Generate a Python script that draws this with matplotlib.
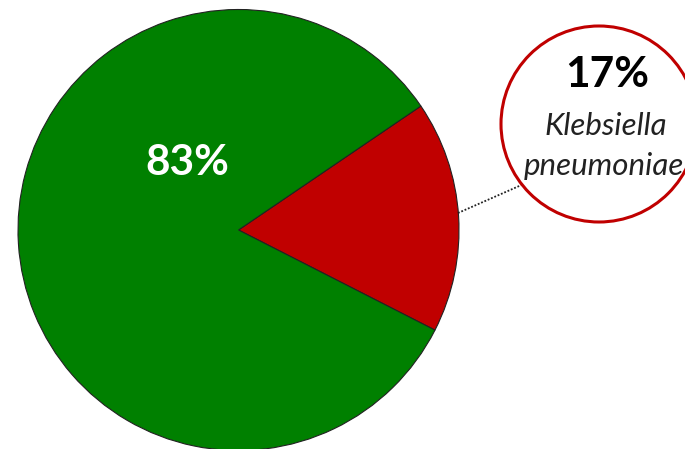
import matplotlib.pyplot as plt
from matplotlib.patches import Circle

# share of isolates
labels = ['Klebsiella pneumoniae', 'Other']
shares = [17, 83]
colors = ['#c00000', '#008000']

plt.rcParams['font.family'] = ['Lato', 'DejaVu Sans']

fig = plt.figure(figsize=(6.85, 4.49), dpi=100)
ax = fig.add_axes([0, 0, 1, 1])
ax.set_xlim(0, 685)
ax.set_ylim(0, 449)
ax.set_aspect('equal')
ax.axis('off')

# pie, centre / radius in pixel units of the figure
cx, cy, r = 238.5, 219, 220.5
ax.pie(shares, colors=colors, startangle=-27, counterclock=True,
       center=(cx, cy), radius=r,
       wedgeprops=dict(edgecolor='#222222', linewidth=0.8))
ax.set_xlim(0, 685)
ax.set_ylim(0, 449)

ax.text(187.5, 449 - 163, f'{shares[1]}%', color='white', fontsize=30.5,
        fontweight='bold', ha='center', va='center')

# callout bubble for the red slice
ax.add_patch(Circle((599, 449 - 124), 98, facecolor='white',
                    edgecolor='#c00000', linewidth=2.2, zorder=3))
ax.plot([458, 526], [449 - 213, 449 - 183], color='#222222',
        linestyle=(0, (1, 1)), linewidth=1.3, zorder=2)

ax.text(607, 449 - 75, f'{shares[0]}%', color='black', fontsize=30.5,
        fontweight='bold', ha='center', va='center', zorder=4)
ax.text(606, 449 - 126, 'Klebsiella', color='#222222', fontsize=22.5,
        style='italic', ha='center', va='center', zorder=4)
ax.text(524, 449 - 166, 'pneumoniae', color='#222222', fontsize=22.5,
        style='italic', ha='left', va='center', zorder=4)

fig.savefig('out.png', dpi=100)
